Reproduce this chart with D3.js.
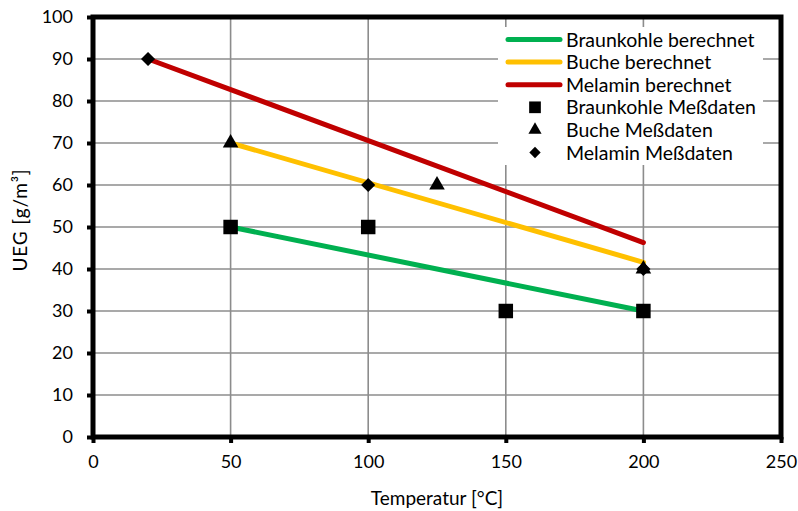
<!DOCTYPE html>
<html><head><meta charset="utf-8">
<script src="https://cdn.jsdelivr.net/npm/d3@7"></script>
<style>body{margin:0;background:#fff}svg{display:block}text{font-family:Lato,"Open Sans",sans-serif;fill:#000}</style>
</head><body>
<script>
// Tick values
const xTicks = [0, 50, 100, 150, 200, 250];
const yTicks = [0, 10, 20, 30, 40, 50, 60, 70, 80, 90, 100];

// Calculated lines (temperature, UEG)
const braunkohleCalc = [[50, 50], [200, 30]];
const bucheCalc = [[50, 70], [200, 41.6]];
const melaminCalc = [[20, 90], [200, 46.3]];

// Measured data
const braunkohleMess = [[50, 50], [100, 50], [150, 30], [200, 30]];
const bucheMess = [[50, 70], [125, 60], [200, 40]];
const melaminMess = [[20, 90], [100, 60], [200, 40]];

const seriesNames = ["Braunkohle berechnet", "Buche berechnet", "Melamin berechnet",
  "Braunkohle Meßdaten", "Buche Meßdaten", "Melamin Meßdaten"];

const W = 798, H = 511;
const m = {left: 93, right: 17, top: 17, bottom: 74};
const svg = d3.select("body").append("svg").attr("width", W).attr("height", H);

const x = d3.scaleLinear().domain([0, 250]).range([m.left, W - m.right]);
const y = d3.scaleLinear().domain([0, 100]).range([H - m.bottom, m.top]);

// Grid
svg.append("g").selectAll("line").data(xTicks).join("line")
  .attr("x1", d => x(d)).attr("x2", d => x(d)).attr("y1", y(0)).attr("y2", y(100))
  .attr("stroke", "#8c8c8c").attr("stroke-width", 1.6);
svg.append("g").selectAll("line").data(yTicks).join("line")
  .attr("x1", x(0)).attr("x2", x(250)).attr("y1", d => y(d)).attr("y2", d => y(d))
  .attr("stroke", "#8c8c8c").attr("stroke-width", 1.6);

// Axes
const xAxis = svg.append("g").attr("transform", `translate(0,${y(0)})`)
  .call(d3.axisBottom(x).tickValues(xTicks).tickSize(6).tickPadding(12));
const yAxis = svg.append("g").attr("transform", `translate(${x(0)},0)`)
  .call(d3.axisLeft(y).tickValues(yTicks).tickSize(6).tickPadding(14));
[xAxis, yAxis].forEach(a => {
  a.select(".domain").remove();
  a.selectAll(".tick line").attr("stroke", "#000").attr("stroke-width", 4);
  a.selectAll(".tick text").style("font-family", "Lato, sans-serif").attr("font-size", 18).attr("fill", "#000");
});

// Plot frame
svg.append("rect").attr("x", x(0)).attr("y", y(100))
  .attr("width", x(250) - x(0)).attr("height", y(0) - y(100))
  .attr("fill", "none").attr("stroke", "#000").attr("stroke-width", 5);

// Calculated lines
const line = d3.line().x(d => x(d[0])).y(d => y(d[1]));
const colors = ["#00B050", "#FFC000", "#C00000"];
[braunkohleCalc, bucheCalc, melaminCalc].forEach((data, i) => {
  svg.append("path").datum(data).attr("d", line).attr("fill", "none")
    .attr("stroke", colors[i]).attr("stroke-width", 5).attr("stroke-linecap", "round");
});

// Measured markers (diamond = square turned 45°)
const sym = [
  [braunkohleMess, d3.symbolSquare, 210, 0, 137],
  [bucheMess, d3.symbolTriangle, 105, 0, 75],
  [melaminMess, d3.symbolSquare, 100, 45, 64]
];
sym.forEach(([data, type, size, rot]) => {
  svg.append("g").selectAll("path").data(data).join("path")
    .attr("transform", d => `translate(${x(d[0])},${y(d[1])}) rotate(${rot})`)
    .attr("d", d3.symbol().type(type).size(size)).attr("fill", "#000");
});

// Legend
const lg = svg.append("g");
lg.append("rect").attr("x", 498).attr("y", 27).attr("width", 265).attr("height", 138).attr("fill", "#fff");
seriesNames.forEach((name, i) => {
  const yy = 39.5 + i * 22.6;
  if (i < 3) {
    lg.append("line").attr("x1", 508).attr("x2", 560).attr("y1", yy).attr("y2", yy)
      .attr("stroke", colors[i]).attr("stroke-width", 5).attr("stroke-linecap", "round");
  } else {
    const [, type, , rot, lsize] = sym[i - 3];
    lg.append("path").attr("transform", `translate(535,${yy}) rotate(${rot})`)
      .attr("d", d3.symbol().type(type).size(lsize)).attr("fill", "#000");
  }
  lg.append("text").attr("x", 566).attr("y", yy + 7).attr("font-size", 19.5).text(name);
});

// Axis titles
svg.append("text").attr("x", (x(0) + x(250)) / 2).attr("y", 505).attr("text-anchor", "middle")
  .attr("font-size", 19).text("Temperatur [°C]");
svg.append("text").attr("transform", `translate(27,220) rotate(-90)`)
  .attr("text-anchor", "middle").attr("font-size", 19).attr("letter-spacing", 0.8).text("UEG [g/m³]");
</script>
</body></html>
